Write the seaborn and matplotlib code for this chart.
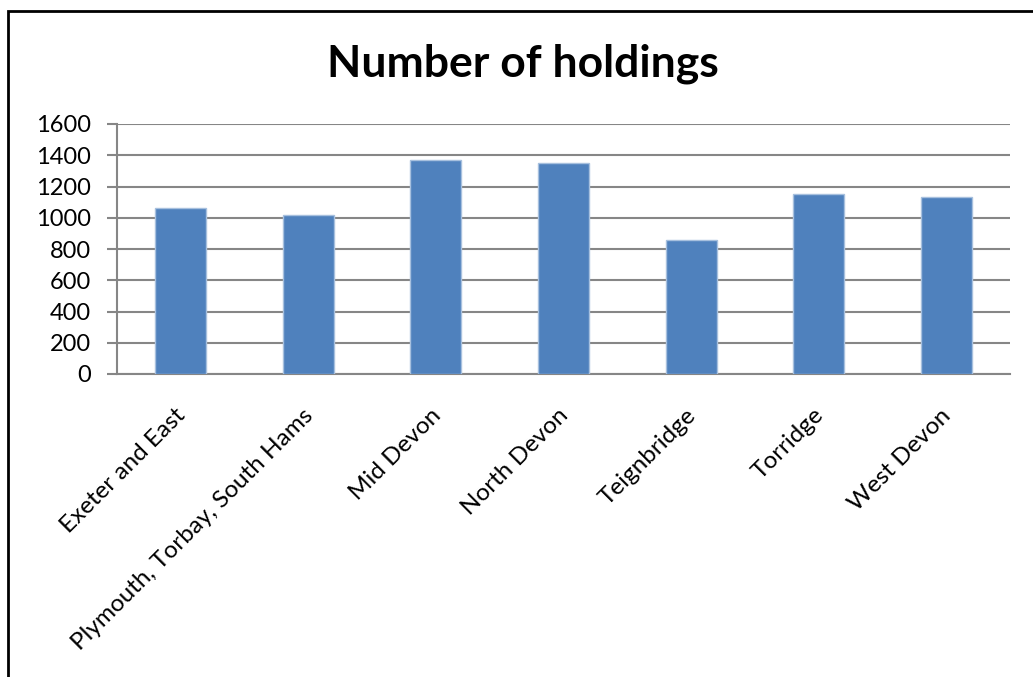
import matplotlib
matplotlib.use("Agg")
import matplotlib.pyplot as plt
import matplotlib.transforms as mtransforms
import seaborn as sns
import pandas as pd
import numpy as np
from matplotlib.patches import Rectangle

categories = ["Exeter and East", "Plymouth, Torbay, South Hams", "Mid Devon",
              "North Devon", "Teignbridge", "Torridge", "West Devon"]
holdings = [1060, 1016, 1371, 1352, 860, 1153, 1134]
y_ticks = [0, 200, 400, 600, 800, 1000, 1200, 1400, 1600]
title = "Number of holdings"

sns.set_theme(style="white")
plt.rcParams['font.family'] = ['Lato', 'DejaVu Sans']

W, H = 1033, 677
fig = plt.figure(figsize=(W / 100, H / 100), dpi=100)
ax = fig.add_axes([117 / W, (H - 374) / H, 893 / W, 250 / H])

df = pd.DataFrame({"region": categories, "holdings": holdings})
sns.barplot(data=df, x="region", y="holdings", ax=ax, color="#4F81BD",
            saturation=1, width=0.4, edgecolor="#A7C0DE", linewidth=1, zorder=3)

grid_c = "#868686"
ax.set_ylim(0, 1600)
ax.set_xlim(-0.5, len(categories) - 0.5)
ax.set_yticks(y_ticks)
ax.set_yticklabels([str(v) for v in y_ticks], fontsize=17, color="black")
ax.yaxis.grid(True, color=grid_c, linewidth=1.5, zorder=0)
ax.xaxis.grid(False)
ax.set_axisbelow(True)

ax.set_xticks(range(len(categories)))
ax.set_xticklabels(categories, rotation=45, ha="right", rotation_mode="anchor",
                   fontsize=17.5, color="black")
ax.set_xticks(np.arange(-0.5, len(categories), 1.0), minor=True)
ax.tick_params(axis="x", which="major", length=0, pad=22)
ax.tick_params(axis="x", which="minor", length=7, width=1.5, color=grid_c, direction="out")
ax.tick_params(axis="y", which="major", length=7, width=1.5, color=grid_c,
               direction="out", left=True, pad=12)

offset = mtransforms.ScaledTranslation(-6 / 100, 0, fig.dpi_scale_trans)
for lbl in ax.get_xticklabels():
    lbl.set_transform(lbl.get_transform() + offset)

for s in ["top", "right"]:
    ax.spines[s].set_visible(False)
for s in ["left", "bottom"]:
    ax.spines[s].set_color(grid_c)
    ax.spines[s].set_linewidth(1.5)
ax.set_xlabel("")
ax.set_ylabel("")

fig.text(523 / W, 1 - 64 / H, title, ha="center", va="center",
         fontsize=32, fontweight="bold", color="black")

fig.patches.append(Rectangle((8 / W, -0.1), 1.2, (1 - 11 / H) + 0.1,
                             transform=fig.transFigure, fill=False,
                             edgecolor="black", linewidth=2, zorder=10))

fig.savefig("out.png", dpi=100)
